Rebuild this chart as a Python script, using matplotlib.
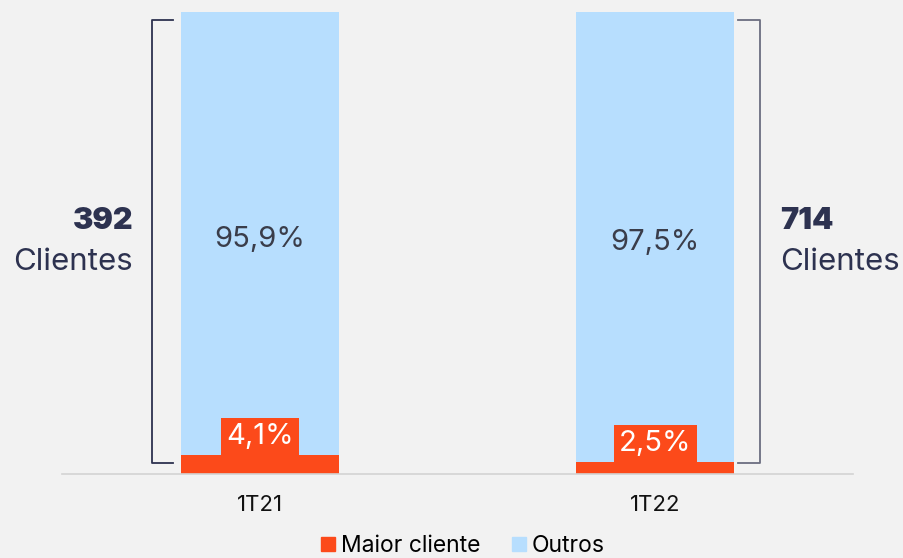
import matplotlib
matplotlib.use("Agg")
import matplotlib.pyplot as plt
from matplotlib.lines import Line2D

# data
periods = ["1T21", "1T22"]
maior_cliente = [4.1, 2.5]
outros = [95.9, 97.5]
clientes = [392, 714]

BG = "#f2f2f2"
ORANGE = "#fc4a1a"
BLUE = "#b7defe"
DARK = "#2d3250"
TEXT = "#3a3d4a"

plt.rcParams["font.family"] = ["Inter", "DejaVu Sans"]

fig = plt.figure(figsize=(9.04, 5.58), dpi=100, facecolor=BG)
ax = fig.add_axes([62 / 904, 84 / 558, 791 / 904, 462 / 558])
ax.set_facecolor(BG)

x = list(range(len(periods)))
w = 0.40
ax.bar(x, maior_cliente, width=w, color=ORANGE, label="Maior cliente", zorder=2)
ax.bar(x, outros, width=w, bottom=maior_cliente, color=BLUE, label="Outros", zorder=2)

for i in x:
    # small share label in an orange box sitting on top of the segment
    ax.text(i, maior_cliente[i] + 1.1, f"{maior_cliente[i]:.1f}%".replace(".", ","),
            ha="center", va="bottom", fontsize=21, color="white",
            bbox=dict(boxstyle="square,pad=0.18", fc=ORANGE, ec="none"), zorder=3)
    ax.text(i, maior_cliente[i] + outros[i] / 2 - 1.2, f"{outros[i]:.1f}%".replace(".", ","),
            ha="center", va="center", fontsize=21, color=TEXT, zorder=3)

# braces
top, bot = 98.3, 2.4
ax.plot([-0.219, -0.272, -0.272, -0.219], [top, top, bot, bot], color=DARK, lw=1.3, clip_on=False)
ax.plot([1.209, 1.265, 1.265, 1.209], [top, top, bot, bot], color="#6b6e80", lw=1.3, clip_on=False)

ax.text(-0.32, 54.7, str(clientes[0]), ha="right", va="center", fontsize=22, fontweight="black", color=DARK)
ax.text(-0.32, 45.8, "Clientes", ha="right", va="center", fontsize=22.5, color=DARK)
ax.text(1.315, 54.7, str(clientes[1]), ha="left", va="center", fontsize=22, fontweight="black", color=DARK)
ax.text(1.315, 45.8, "Clientes", ha="left", va="center", fontsize=22.5, color=DARK)

ax.set_xlim(-0.5, 1.5)
ax.set_ylim(0, 100)
ax.set_xticks(x)
ax.set_xticklabels(periods, fontsize=16, color="#111111")
ax.tick_params(axis="x", length=0, pad=15)
ax.set_yticks([])
for s in ["top", "left", "right"]:
    ax.spines[s].set_visible(False)
ax.spines["bottom"].set_color("#d3d3d3")
ax.spines["bottom"].set_linewidth(1.2)

handles = [
    Line2D([], [], marker="s", ls="none", ms=10.5, color=ORANGE, label="Maior cliente"),
    Line2D([], [], marker="s", ls="none", ms=10.5, color=BLUE, label="Outros"),
]
fig.legend(handles=handles, loc="lower center", bbox_to_anchor=(0.51, -0.035), ncol=2,
           frameon=False, fontsize=16.5, handletextpad=0.05, columnspacing=1.2,
           handlelength=1.0)

fig.savefig("out.png", dpi=100, facecolor=BG)
